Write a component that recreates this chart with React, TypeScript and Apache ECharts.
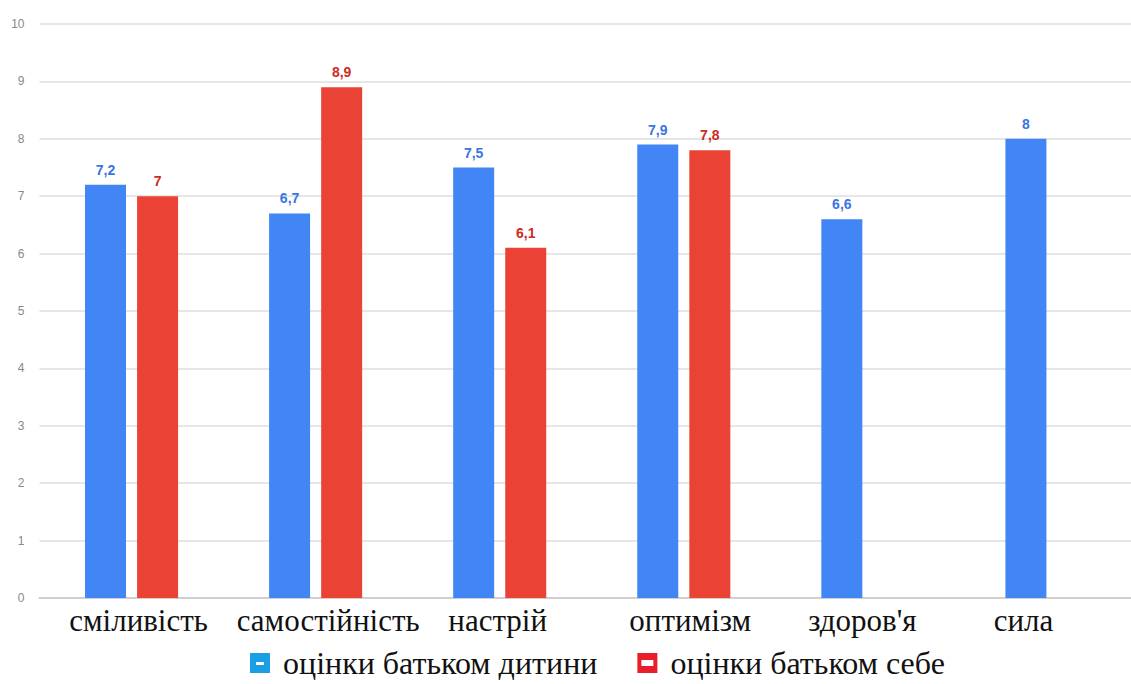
import React, { useEffect, useRef } from "react";
import * as echarts from "echarts";

const categories = ["сміливість", "самостійність", "настрій", "оптимізм", "здоров'я", "сила"];
const childRatings = [7.2, 6.7, 7.5, 7.9, 6.6, 8];
const selfRatings: (number | null)[] = [7, 8.9, 6.1, 7.8, null, null];
const seriesNames = ["оцінки батьком дитини", "оцінки батьком себе"];

// horizontal nudges of category labels (styling only)
const labelShift = [7, 12.5, -2, 6.5, -5.5, -28.5];

const fmt = (v: number) => String(v).replace(".", ",");

export default function App() {
  const ref = useRef<HTMLDivElement>(null);
  useEffect(() => {
    document.body.style.margin = "0";
    const chart = echarts.init(ref.current!, null, { renderer: "svg" });
    const rich: Record<string, any> = {};
    labelShift.forEach((s, i) => {
      rich["c" + i] = {
        fontFamily: "Liberation Serif",
        fontSize: 31,
        color: "#111",
        padding: s >= 0 ? [0, 0, 0, 2 * s] : [0, -2 * s, 0, 0],
      };
    });
    chart.setOption({
      animation: false,
      backgroundColor: "#fff",
      grid: { left: 39.5, right: 0, top: 24, bottom: 86, containLabel: false },
      legend: {
        top: 647,
        left: 250,
        padding: 0,
        itemWidth: 20,
        itemHeight: 20,
        itemGap: 40,
        textStyle: {
          fontFamily: "Liberation Serif",
          fontSize: 32,
          lineHeight: 32,
          color: "#111",
          padding: [0, 0, 0, 8],
        },
        data: [
          { name: seriesNames[0], icon: "path://M0,0H20V20H0Z M6,9V12H14V9Z", itemStyle: { color: "#1a9fe6" } },
          { name: seriesNames[1], icon: "path://M0,0H20V20H0Z M4,7V13H16V7Z", itemStyle: { color: "#e81f2a" } },
        ],
      },
      xAxis: {
        type: "category",
        data: categories,
        axisLine: { lineStyle: { color: "#cfcfcf", width: 2 } },
        axisTick: { show: false },
        axisLabel: {
          margin: 7,
          interval: 0,
          formatter: (v: string) => `{c${categories.indexOf(v)}|${v}}`,
          rich,
        },
      },
      yAxis: {
        type: "value",
        min: 0,
        max: 10,
        interval: 1,
        axisLine: { show: false },
        axisTick: { show: false },
        axisLabel: { color: "#888", fontSize: 12, fontFamily: "Liberation Sans", margin: 15 },
        splitLine: { lineStyle: { color: "#e6e6e6", width: 2 } },
      },
      series: [
        {
          name: seriesNames[0],
          type: "bar",
          data: childRatings,
          barWidth: 41,
          barGap: "27%",
          itemStyle: { color: "#4285f4" },
          label: {
            show: true,
            position: "top",
            distance: 8,
            color: "#3a75e0",
            fontWeight: "bold",
            fontSize: 14,
            fontFamily: "Liberation Sans",
            formatter: (p: any) => fmt(p.value),
          },
        },
        {
          name: seriesNames[1],
          type: "bar",
          data: selfRatings,
          barWidth: 41,
          itemStyle: { color: "#ea4335" },
          label: {
            show: true,
            position: "top",
            distance: 8,
            color: "#cc2b22",
            fontWeight: "bold",
            fontSize: 14,
            fontFamily: "Liberation Sans",
            formatter: (p: any) => fmt(p.value),
          },
        },
      ],
    });
    return () => chart.dispose();
  }, []);
  return (
    <div style={{ width: 1131, height: 684, overflow: "hidden", position: "relative" }}>
      <div ref={ref} style={{ width: 1144, height: 684 }} />
    </div>
  );
}
